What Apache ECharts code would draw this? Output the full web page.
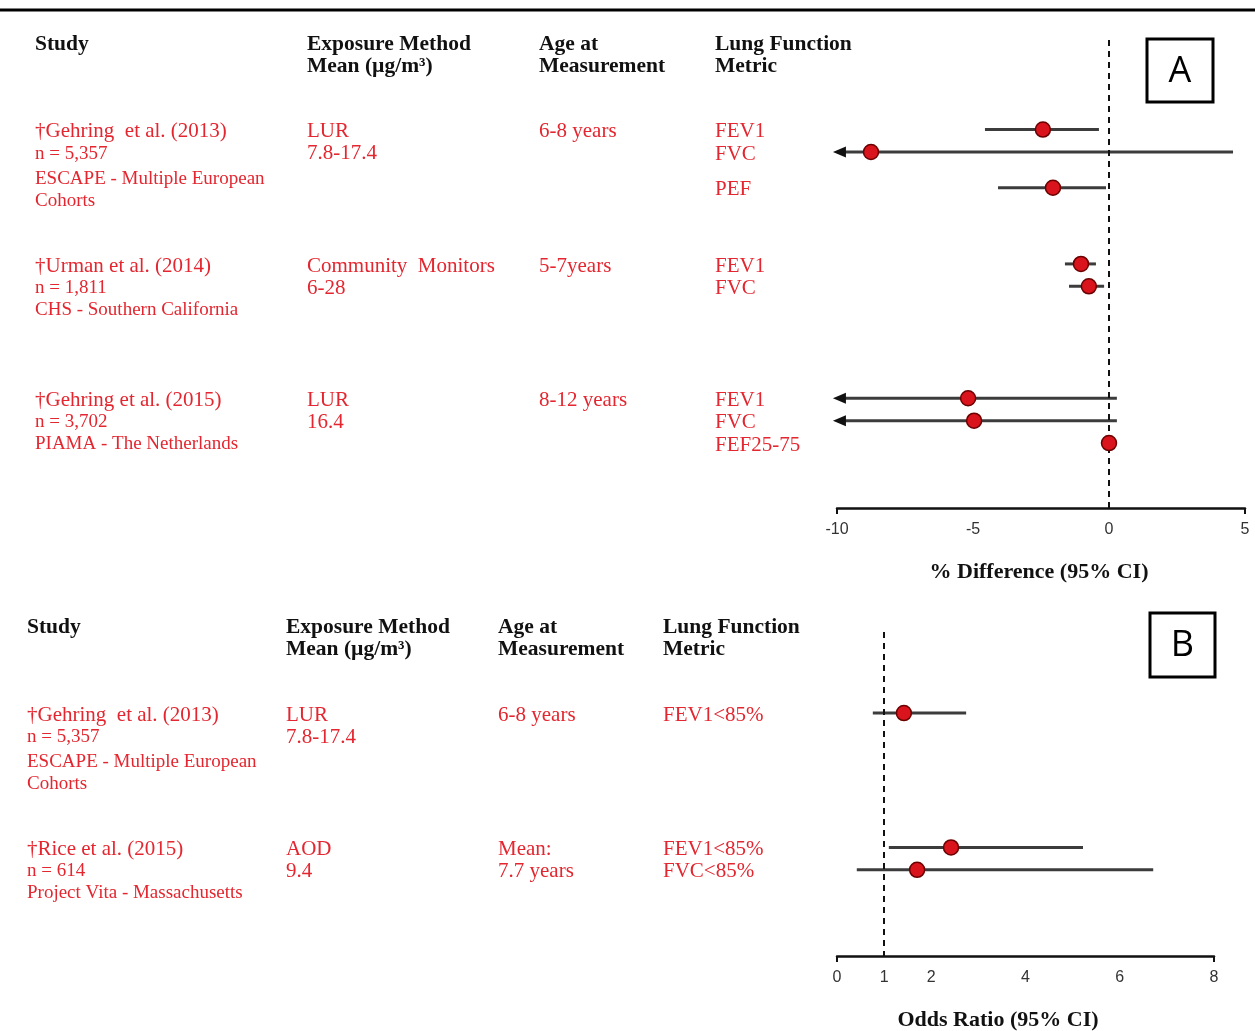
<!DOCTYPE html>
<html><head><meta charset="utf-8">
<script src="https://cdn.jsdelivr.net/npm/echarts@6/dist/echarts.min.js"></script>
<style>html,body{margin:0;padding:0;background:#fff}#c{width:1255px;height:1031px}</style>
</head><body><div id="c"></div>
<script>
// ---------- Panel A data (% difference) ----------
const metricsA = ['FEV1','FVC','PEF','FEV1','FVC','FEV1','FVC','FEF25-75'];
const rowA = [0, 1, 2.6, 6, 7, 12, 13, 14];
const estA = [-2.43, -8.75, -2.06, -1.03, -0.74, -5.18, -4.96, 0];
const lowA = [-4.56, -10.15, -4.08, -1.62, -1.47, -10.15, -10.15, 0];
const highA = [-0.37, 4.56, -0.11, -0.48, -0.18, 0.29, 0.29, 0];
const truncA = [0, 1, 0, 0, 0, 1, 1, 0];
const ticksA = [-10, -5, 0, 5];
const studyA = [
  ['†Gehring  et al. (2013)', 'n = 5,357', 'ESCAPE - Multiple European', 'Cohorts'],
  ['†Urman et al. (2014)', 'n = 1,811', 'CHS - Southern California'],
  ['†Gehring et al. (2015)', 'n = 3,702', 'PIAMA - The Netherlands']
];
const exposureA = [['LUR', '7.8-17.4'], ['Community  Monitors', '6-28'], ['LUR', '16.4']];
const ageA = [['6-8 years'], ['5-7years'], ['8-12 years']];
const studyRowA = [0, 6, 12];

// ---------- Panel B data (odds ratio) ----------
const metricsB = ['FEV1<85%', 'FEV1<85%', 'FVC<85%'];
const rowB = [0, 6, 7];
const estB = [1.42, 2.42, 1.70];
const lowB = [0.76, 1.10, 0.42];
const highB = [2.74, 5.22, 6.71];
const truncB = [0, 0, 0];
const ticksB = [0, 1, 2, 4, 6, 8];
const studyB = [
  ['†Gehring  et al. (2013)', 'n = 5,357', 'ESCAPE - Multiple European', 'Cohorts'],
  ['†Rice et al. (2015)', 'n = 614', 'Project Vita - Massachusetts']
];
const exposureB = [['LUR', '7.8-17.4'], ['AOD', '9.4']];
const ageB = [['6-8 years'], ['Mean:', '7.7 years']];
const studyRowB = [0, 6];

const headers = [['Study'], ['Exposure Method', 'Mean (µg/m³)'], ['Age at', 'Measurement'], ['Lung Function', 'Metric']];
const axisNameA = '% Difference (95% CI)';
const axisNameB = 'Odds Ratio (95% CI)';

// ---------- styling / layout ----------
const RED = '#e3262f';
const HFONT = 'bold 21.5px "Liberation Serif", serif';
const AFONT = 'bold 22px "Liberation Serif", serif';
const BIGFONT = '21px "Liberation Serif", serif';
const TFONT = '19px "Liberation Serif", serif';
const UNIT = 22.4;
const DY = 2;

const chart = echarts.init(document.getElementById('c'));

function ciRender(params, api) {
  const lo = api.value(0), hi = api.value(1), r = api.value(2), tr = api.value(3);
  const p1 = api.coord([lo, r]), p2 = api.coord([hi, r]);
  const children = [];
  if (hi > lo) {
    children.push({type: 'line', shape: {x1: p1[0] + (tr ? 6 : 0), y1: p1[1], x2: p2[0], y2: p2[1]},
      style: {stroke: '#3c3c3c', lineWidth: 3}});
  }
  if (tr) {
    children.push({type: 'polygon', shape: {points: [[p1[0], p1[1]], [p1[0] + 13, p1[1] - 5.5], [p1[0] + 13, p1[1] + 5.5]]},
      style: {fill: '#111'}});
  }
  return {type: 'group', children};
}

function txt(x, y, text, font, fill, align) {
  return {type: 'text', x, y: y + DY, silent: true,
    style: {text, font, fill, textAlign: align || 'left', textVerticalAlign: 'middle'}};
}

function panelTexts(cols, headY, row0Y, studies, studyRows, expos, ages, metrics, rows) {
  const g = [];
  headers.forEach((h, c) => h.forEach((line, i) => g.push(txt(cols[c], headY + i * 22, line, HFONT, '#111'))));
  studies.forEach((lines, s) => {
    const y0 = row0Y + studyRows[s] * UNIT;
    lines.forEach((line, i) => g.push(txt(cols[0], y0 + i * 22 + (lines.length === 4 && i >= 2 ? 3 : 0), line, i === 0 ? BIGFONT : TFONT, RED)));
    expos[s].forEach((line, i) => g.push(txt(cols[1], y0 + i * 22, line, BIGFONT, RED)));
    ages[s].forEach((line, i) => g.push(txt(cols[2], y0 + i * 22, line, BIGFONT, RED)));
  });
  metrics.forEach((m, i) => g.push(txt(cols[3], row0Y + rows[i] * UNIT, m, BIGFONT, RED)));
  return g;
}

function boxLabel(x, y, w, h, letter) {
  return [
    {type: 'rect', shape: {x, y, width: w, height: h}, style: {fill: '#fff', stroke: '#000', lineWidth: 3}},
    {type: 'text', x: x + w / 2, y: y + h / 2 + 1, style: {text: letter, font: '36px "Open Sans", sans-serif', fill: '#000', textAlign: 'center', textVerticalAlign: 'middle'}}
  ];
}

const xAxisBase = (min, max, labels) => ({
  type: 'value', min, max,
  axisLine: {show: true, onZero: false, lineStyle: {color: '#111', width: 2.5}},
  axisTick: {show: true, customValues: [min, max], length: 6, lineStyle: {color: '#111', width: 2}},
  axisLabel: {customValues: labels, color: '#333', fontSize: 16, fontFamily: '"Liberation Sans", Arial, sans-serif', margin: 14},
  splitLine: {show: false}
});

const refLine = (v) => ({
  silent: true, symbol: ['none', 'none'], label: {show: false},
  lineStyle: {color: '#111', type: [6, 5], width: 2},
  data: [{xAxis: v}]
});

const graphics = [
  {type: 'line', shape: {x1: 0, y1: 10, x2: 1255, y2: 10}, style: {stroke: '#000', lineWidth: 3}},
  ...panelTexts([35, 307, 539, 715], 42, 129.6, studyA, studyRowA, exposureA, ageA, metricsA, rowA),
  ...panelTexts([27, 286, 498, 663], 625, 713, studyB, studyRowB, exposureB, ageB, metricsB, rowB),
  ...boxLabel(1147, 39, 66, 63, 'A'),
  ...boxLabel(1150, 613, 65, 64, 'B'),
  txt(1039, 570, axisNameA, AFONT, '#111', 'center'),
  txt(998, 1018, axisNameB, AFONT, '#111', 'center')
];

chart.setOption({
  animation: false,
  backgroundColor: '#fff',
  grid: [
    {left: 837, right: 10, top: 40, bottom: 523},
    {left: 837, right: 41, top: 632, bottom: 75}
  ],
  xAxis: [
    Object.assign(xAxisBase(-10, 5, ticksA), {gridIndex: 0}),
    Object.assign(xAxisBase(0, 8, ticksB), {gridIndex: 1})
  ],
  yAxis: [
    {gridIndex: 0, type: 'value', inverse: true, min: -4, max: 16.9, show: false},
    {gridIndex: 1, type: 'value', inverse: true, min: -3.62, max: 10.85, show: false}
  ],
  series: [
    {type: 'custom', xAxisIndex: 0, yAxisIndex: 0, renderItem: ciRender, clip: false, z: 2,
      encode: {x: [0, 1], y: 2},
      data: rowA.map((r, i) => [lowA[i], highA[i], r, truncA[i]]),
      markLine: refLine(0)},
    {type: 'scatter', xAxisIndex: 0, yAxisIndex: 0, z: 5, symbolSize: 15,
      itemStyle: {color: '#d9141c', borderColor: '#6b0000', borderWidth: 1.5, opacity: 1},
      data: estA.map((v, i) => [v, rowA[i]])},
    {type: 'custom', xAxisIndex: 1, yAxisIndex: 1, renderItem: ciRender, clip: false, z: 2,
      encode: {x: [0, 1], y: 2},
      data: rowB.map((r, i) => [lowB[i], highB[i], r, truncB[i]]),
      markLine: refLine(1)},
    {type: 'scatter', xAxisIndex: 1, yAxisIndex: 1, z: 5, symbolSize: 15,
      itemStyle: {color: '#d9141c', borderColor: '#6b0000', borderWidth: 1.5, opacity: 1},
      data: estB.map((v, i) => [v, rowB[i]])}
  ],
  graphic: graphics
});
</script></body></html>
